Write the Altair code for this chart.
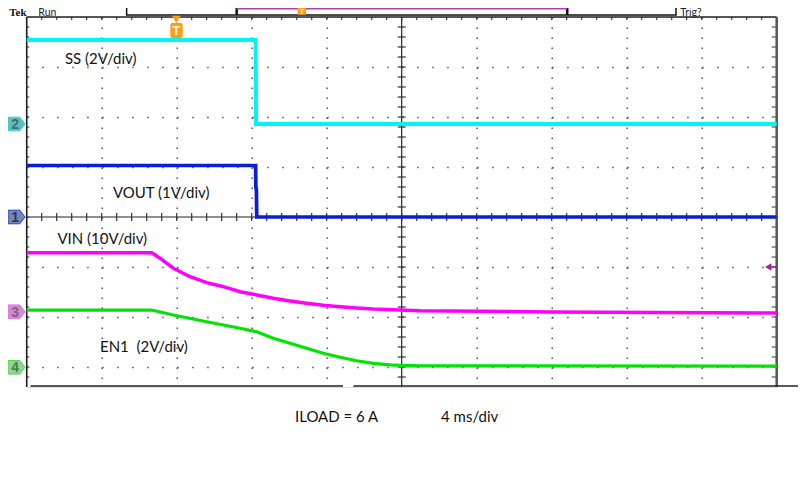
import altair as alt
import numpy as np
import pandas as pd

# ---------------- waveform data ----------------
# time in ms from the left screen edge (4 ms/div), values in volts
ss_t = [0.0, 12.21, 12.23, 40.0]
ss_v = [3.36, 3.36, 0.0, 0.0]

vout_t = [0.0, 12.21, 12.22, 12.25, 12.27, 40.0]
vout_v = [1.03, 1.03, 0.60, 0.55, 0.0, 0.0]

vin_t = [0.0, 6.67, 7.11, 7.82, 8.71, 9.60, 10.49, 11.38, 12.27, 13.15, 14.04,
         14.93, 15.82, 16.71, 17.60, 18.49, 19.91, 20.98, 27.9, 40.0]
vin_v = [11.8, 11.8, 10.7, 8.7, 7.0, 5.8, 5.0, 4.0, 3.35, 2.7, 2.15,
         1.7, 1.3, 1.0, 0.75, 0.55, 0.35, 0.2, -0.05, -0.25]

en_t = [0.0, 6.67, 7.82, 9.60, 11.38, 12.27, 13.15, 14.04, 14.93, 15.82,
        16.71, 17.60, 18.49, 19.38, 19.91, 20.98, 40.0]
en_v = [2.29, 2.29, 2.09, 1.82, 1.56, 1.42, 1.16, 0.96, 0.76, 0.56,
        0.40, 0.26, 0.16, 0.10, 0.08, 0.06, 0.05]

# channel settings
ch_names = ["SS", "VOUT", "VIN", "EN1"]
ch_numbers = ["2", "1", "3", "4"]
ch_colors = ["#00f4f4", "#0c1ed2", "#ff00ff", "#00e400"]
ch_widths = [4, 3.2, 4.5, 4.5]
ch_volts_per_div = [2, 1, 10, 2]
ch_ground_div = [1.86, 0.0, -1.894, -3.006]
ch_marker_fill = ["#62bcbc", "#7787b0", "#d58ad5", "#8fd68f"]
ch_marker_stroke = ["#2fd6d6", "#2440d0", "#e07ae0", "#55d055"]
ch_marker_text = ["#3e6e6e", "#2a3660", "#8a5a8a", "#567456"]

ch_label_text = ["SS (2V/div)", "VOUT (1V/div)", "VIN (10V/div)", "EN1\u00a0 (2V/div)"]
ch_label_t = [2.04, 4.60, 1.64, 3.91]
ch_label_y = [3.16, 0.49, -0.44, -2.61]

footer_text = ["ILOAD = 6 A", "4 ms/div"]
footer_t = [14.31, 22.1]
footer_y = [-4.0, -4.0]

T_MAX = 40.0
Y_MIN, Y_MAX = -3.4, 4.0

series = [(ss_t, ss_v), (vout_t, vout_v), (vin_t, vin_v), (en_t, en_v)]
rows = []
for k, (ts, vs) in enumerate(series):
    for i, (t, v) in enumerate(zip(ts, vs)):
        rows.append({"ch": ch_names[k], "i": i, "t": t,
                     "y": ch_ground_div[k] + v / ch_volts_per_div[k]})
traces = pd.DataFrame(rows)

xs = alt.Scale(domain=[0, T_MAX], nice=False, zero=False)
ys = alt.Scale(domain=[Y_MIN, Y_MAX], nice=False, zero=False)
xaxis = alt.Axis(values=[4, 8, 12, 16, 24, 28, 32, 36], labels=False, ticks=False,
                 domain=False, title=None, grid=True, gridColor="#555",
                 gridDash=[1.5, 8.5], gridWidth=1.5)
yaxis = alt.Axis(values=[-3, -2, -1, 1, 2, 3], labels=False, ticks=False,
                 domain=False, title=None, grid=True, gridColor="#555",
                 gridDash=[1.5, 13.5], gridWidth=1.5)


def X(f):
    return alt.X(f, type="quantitative", scale=xs, axis=xaxis)


def Y(f):
    return alt.Y(f, type="quantitative", scale=ys, axis=yaxis)


# ---------------- graticule (center cross, borders, ticks) ----------------
seg = []


def add(x0, x1, y0, y1, c="#222", w=1.2):
    seg.append({"x0": x0, "x1": x1, "y0": y0, "y1": y1, "c": c, "w": w})


add(0, T_MAX, 0, 0)                      # center horizontal
add(20, 20, Y_MIN, Y_MAX)                 # center vertical
for xm in np.arange(0.8, T_MAX, 0.8):     # minor ticks on center horizontal
    add(xm, xm, -0.08, 0.08, "#333", 1.2)
    add(xm, xm, Y_MAX - 0.06, Y_MAX, "#444", 1.2)   # top border ticks
for ym in np.arange(Y_MIN + 0.2, Y_MAX, 0.2):      # minor ticks on center vertical
    add(19.79, 20.21, ym, ym, "#333", 1.2)
    add(T_MAX - 0.27, T_MAX, ym, ym, "#555", 1.2)   # right border ticks
    add(0, 0.14, ym, ym, "#555", 1.2)               # left border ticks
add(0, T_MAX, Y_MAX, Y_MAX, "#222", 1.5)            # top border
add(0, 0, Y_MIN, Y_MAX, "#222", 1.6)                # left border
add(T_MAX, T_MAX, Y_MIN, Y_MAX, "#555", 2.5)        # right border
add(0.2, 16.87, Y_MIN + 0.02, Y_MIN + 0.02, "#222", 1.5)   # bottom border
add(17.42, 41.14, Y_MIN + 0.02, Y_MIN + 0.02, "#222", 1.5)
# top status bar brackets and trigger position line
add(11.2, 11.2, 4.04, 4.5, "#111", 2.5)
add(28.83, 28.83, 4.04, 4.5, "#111", 2.5)
add(11.2, 28.83, 4.165, 4.165, "#b23cb2", 1.5)
# trigger level line at right edge
add(39.6, T_MAX, -1.0, -1.0, "#a020a0", 1.5)
segs = pd.DataFrame(seg)

rules = alt.Chart(segs).mark_rule().encode(
    x=X("x0"), x2="x1", y=Y("y0"), y2="y1",
    color=alt.Color("c:N", scale=None), strokeWidth=alt.StrokeWidth("w:Q", scale=None))

# status bar box
bar = pd.DataFrame({"x0": [5.33], "x1": [34.63], "y0": [4.04], "y1": [4.5]})
bar_rect = alt.Chart(bar).mark_rect(fill="white", stroke="#111", strokeWidth=1.5).encode(
    x=X("x0"), x2="x1", y=Y("y0"), y2="y1")

# ---------------- traces ----------------
lines = alt.Chart(traces).mark_line(strokeCap="butt").encode(
    x=X("t"), y=Y("y"),
    color=alt.Color("ch:N", scale=alt.Scale(domain=ch_names, range=ch_colors), legend=None),
    strokeWidth=alt.StrokeWidth("ch:N", scale=alt.Scale(domain=ch_names, range=ch_widths), legend=None),
    order="i:Q")

# ---------------- channel ground markers ----------------
mk = pd.DataFrame({"t": [-0.544] * 4, "y": ch_ground_div, "n": ch_numbers,
                   "f": ch_marker_fill, "s": ch_marker_stroke, "tc": ch_marker_text,
                   "tt": [-0.62] * 4})
marker_path = "M -1 -0.8 L 0.4 -0.8 L 1 0 L 0.4 0.8 L -1 0.8 Z"
markers = alt.Chart(mk).mark_point(shape=marker_path, filled=True, size=289, opacity=1,
                                   strokeWidth=1).encode(
    x=X("t"), y=Y("y"), fill=alt.Fill("f:N", scale=None), stroke=alt.Stroke("s:N", scale=None))
marker_txt = alt.Chart(mk).mark_text(font="Liberation Sans", fontSize=14, fontWeight="bold",
                                     baseline="middle", align="center", dy=1).encode(
    x=X("tt"), y=Y("y"), text="n:N", color=alt.Color("tc:N", scale=None))

# ---------------- trigger markers ----------------
trig = pd.DataFrame({"t": [7.98], "y": [3.95], "ty": [3.725], "x0": [7.66], "x1": [8.32],
                     "y0": [3.58], "y1": [3.88]})
trig_tri = alt.Chart(trig).mark_point(shape="triangle-down", filled=True, size=80,
                                      color="#f5a01a", opacity=1).encode(x=X("t"), y=Y("y"))
trig_box = alt.Chart(trig).mark_rect(color="#f5a01a", cornerRadius=2).encode(
    x=X("x0"), x2="x1", y=Y("y0"), y2="y1")
trig_txt = alt.Chart(trig).mark_text(text="T", color="#fff4dc", fontSize=13, fontWeight="bold",
                                     font="Liberation Sans", baseline="middle").encode(
    x=X("t"), y=Y("ty"))

trig2 = pd.DataFrame({"x0": [14.45], "x1": [14.9], "y0": [4.045], "y1": [4.26],
                      "t": [14.675], "y": [4.1]})
trig2_box = alt.Chart(trig2).mark_rect(color="#f5a01a", cornerRadius=1).encode(
    x=X("x0"), x2="x1", y=Y("y0"), y2="y1")
trig2_txt = alt.Chart(trig2).mark_text(text="T", color="#fff4dc", fontSize=8, fontWeight="bold",
                                       font="Liberation Sans", baseline="middle").encode(
    x=X("t"), y=Y("y"))

lvl = pd.DataFrame({"t": [39.55], "y": [-1.0]})
lvl_tri = alt.Chart(lvl).mark_point(shape="triangle-left", filled=True, size=55,
                                    color="#a020a0", opacity=1).encode(x=X("t"), y=Y("y"))

# ---------------- texts ----------------
lab = pd.DataFrame({"t": ch_label_t + footer_t, "y": ch_label_y + footer_y,
                    "s": ch_label_text + footer_text})
labels = alt.Chart(lab).mark_text(font="Lato", fontSize=15, align="left", baseline="middle",
                                  color="#111").encode(x=X("t"), y=Y("y"), text="s:N")

# header texts (the top 8px of the screen fall in the page margin, so keep them small)
hdr = pd.DataFrame({"t": [-0.93, 0.62, 34.85], "y": [3.99, 3.99, 3.99],
                    "s": ["Tek", "Run", "Trig?"]})
tek = alt.Chart(hdr.iloc[[0]]).mark_text(font="Liberation Serif", fontSize=11, fontWeight="bold",
                                         align="left", baseline="bottom", color="#111").encode(
    x=X("t"), y=Y("y"), text="s:N")
hdr_txt = alt.Chart(hdr.iloc[[1, 2]]).mark_text(font="Lato", fontSize=10.5, align="left",
                                                 baseline="bottom", color="#222").encode(
    x=X("t"), y=Y("y"), text="s:N")

chart = alt.layer(
    bar_rect, rules, lines, markers, marker_txt, trig_tri, trig_box, trig_txt,
    trig2_box, trig2_txt, lvl_tri, labels, tek, hdr_txt
).properties(
    width=750, height=370,
    autosize=alt.AutoSizeParams(type="none"),
    padding={"left": 18.7, "top": 9, "right": 27, "bottom": 95},
).configure_view(stroke=None).configure(background="white")

chart.save("out.html", embed_options={"renderer": "svg", "actions": False})
